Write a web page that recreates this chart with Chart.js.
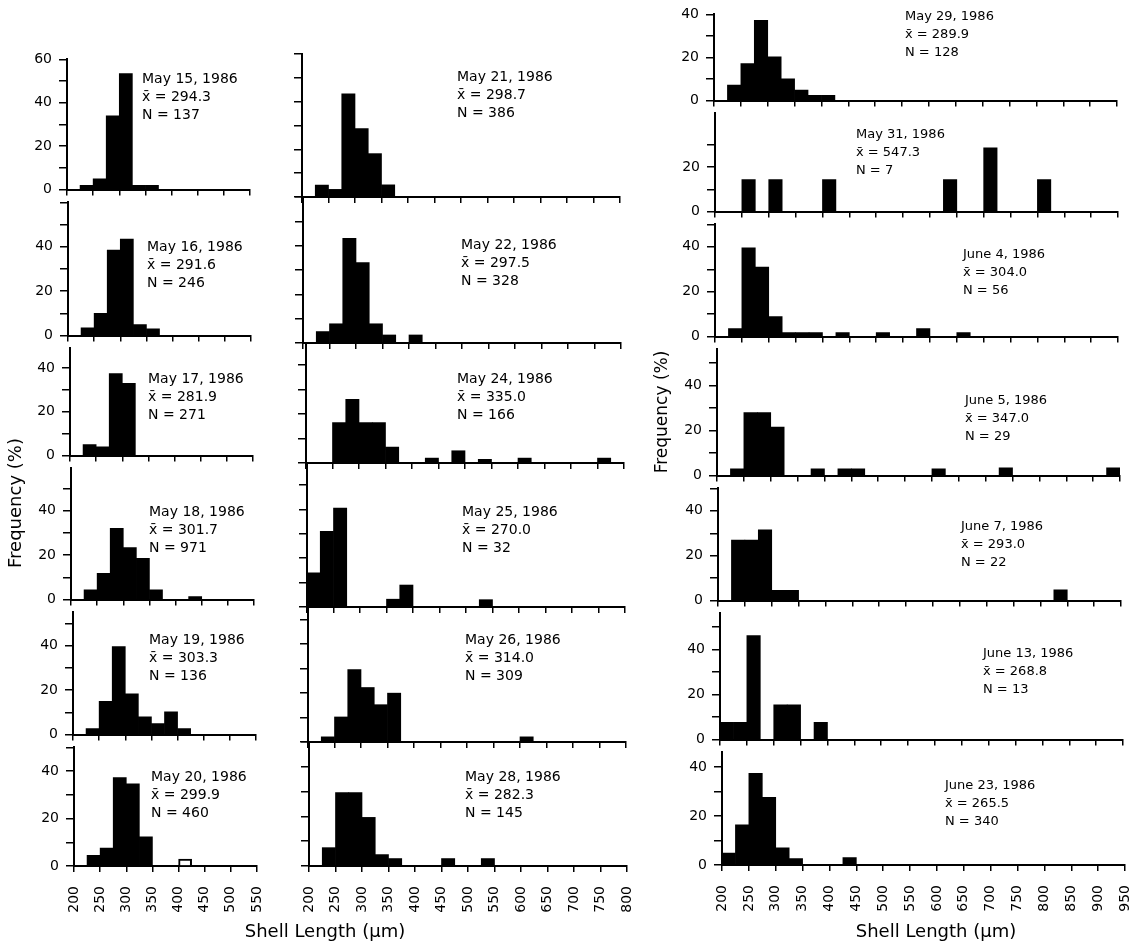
<!DOCTYPE html>
<html><head><meta charset="utf-8">
<script src="https://cdn.jsdelivr.net/npm/chart.js@4.4.1/dist/chart.umd.min.js"></script>
<style>
html,body{margin:0;padding:0;background:#fff;}
#root{position:relative;width:1141px;height:943px;overflow:hidden;font-family:"DejaVu Sans",sans-serif;color:#000;}
canvas{position:absolute;}
.note{position:absolute;line-height:18px;white-space:pre;color:#000;}
.ytitle{position:absolute;font-size:18px;white-space:nowrap;transform:translate(-50%,-50%) rotate(-90deg);}
.xtitle{position:absolute;font-size:18px;white-space:nowrap;transform:translate(-50%,-50%);}
</style></head><body><div id="root"></div>
<script>
// ---- data: frequency (%) per 25 µm bin, first bin starts at 200 µm ----
const BIN_START = 200, BIN_WIDTH = 25;
const xTicksLeft = [200, 550], xTicksMid = [200, 800], xTicksRight = [200, 950];

const may15 = [0, 2, 5, 34, 53.5, 2, 2];
const may16 = [0, 3.5, 10, 38.5, 43.5, 5, 3];
const may17 = [0, 5, 4, 37.5, 33];
const may18 = [0, 4.4, 11.8, 32, 23.4, 18.6, 4.4, 0, 0, 1.4];
const may19 = [0, 2.7, 15, 39.6, 18.4, 8, 5, 10.3, 2.7];
const may20 = [0, 4.5, 7.6, 37.3, 34.6, 12.3];
const may20open = [null, null, null, null, null, null, null, null, 2.9];

const may21 = [0, 5, 3.2, 43.3, 28.7, 18.2, 5.1];
const may22 = [0, 4.7, 7.9, 43, 33.1, 7.9, 3.3, 0, 3.3];
const may24 = [0, 0, 16.5, 26, 16.5, 16.5, 6.5, 0, 0, 2, 0, 5, 0, 1.5, 0, 0, 2, 0, 0, 0, 0, 0, 2];
const may25 = [14, 31, 40.5, 0, 0, 0, 3.2, 9, 0, 0, 0, 0, 0, 3];
const may26 = [0, 2.1, 10.2, 29.5, 22.2, 15.2, 19.9, 0, 0, 0, 0, 0, 0, 0, 0, 0, 2.1];
const may28 = [0, 7.4, 29.6, 29.6, 19.6, 4.6, 3, 0, 0, 0, 3, 0, 0, 3];

const may29 = [0, 7.2, 17.2, 37.3, 20.3, 10.1, 4.9, 2.4, 2.4];
const may31 = [0, 0, 14.3, 0, 14.3, 0, 0, 0, 14.3, 0, 0, 0, 0, 0, 0, 0, 0, 14.3, 0, 0, 28.6, 0, 0, 0, 14.3];
const jun4 = [0, 3.6, 39.6, 31, 8.9, 1.8, 1.8, 1.8, 0, 1.8, 0, 0, 1.8, 0, 0, 3.6, 0, 0, 1.8];
const jun5 = [0, 3, 28, 28, 21.5, 0, 0, 3, 0, 3, 3, 0, 0, 0, 0, 0, 3, 0, 0, 0, 0, 3.4, 0, 0, 0, 0, 0, 0, 0, 3.4];
const jun7 = [0, 27, 27, 31.5, 4.6, 4.6, 0, 0, 0, 0, 0, 0, 0, 0, 0, 0, 0, 0, 0, 0, 0, 0, 0, 0, 0, 4.8];
const jun13 = [7.7, 7.7, 46.2, 0, 15.4, 15.4, 0, 7.7];
const jun23 = [4.9, 16.4, 37.5, 27.6, 7, 2.6, 0, 0, 0, 3];

const dates = ['May 15, 1986','May 16, 1986','May 17, 1986','May 18, 1986','May 19, 1986','May 20, 1986',
  'May 21, 1986','May 22, 1986','May 24, 1986','May 25, 1986','May 26, 1986','May 28, 1986',
  'May 29, 1986','May 31, 1986','June 4, 1986','June 5, 1986','June 7, 1986','June 13, 1986','June 23, 1986'];
const means = ['294.3','291.6','281.9','301.7','303.3','299.9','298.7','297.5','335.0','270.0','314.0','282.3',
  '289.9','547.3','304.0','347.0','293.0','268.8','265.5'];
const counts = ['137','246','271','971','136','460','386','328','166','32','309','145','128','7','56','29','22','13','340'];
const seriesList = [may15, may16, may17, may18, may19, may20, may21, may22, may24, may25, may26, may28,
  may29, may31, jun4, jun5, jun7, jun13, jun23];

// ---- layout ----
const rowsLM = [[54,197],[197,343],[343,463],[463,607],[607,742],[742,866]];
const rowsR = [[9,108],[108,219],[219,344],[344,483],[483,608],[608,747],[747,865]];
const yMaxLM = [60, 60, 49, 59, 55, 50];
const yMaxR = [40, 44, 50, 56, 50, 56, 46];
const x0L = [67, 68, 70, 71, 73, 74];
const x0M = [302, 303, 306, 307, 308, 309];
const x0R = [714, 715, 715, 717, 718, 720, 722];
const notePosL = [[142,78],[147,246],[148,378],[149,511],[149,639],[151,776]];
const notePosM = [[457,76],[461,244],[457,378],[462,511],[465,639],[465,776]];
const notePosR = [[905,16],[856,134],[963,254],[965,400],[961,526],[983,653],[945,785]];

const root = document.getElementById('root');
const FONT = 'DejaVu Sans';

function binData(vals) {
  return vals.map((v, i) => ({ x: BIN_START + (i + 0.5) * BIN_WIDTH, y: v }));
}

function makePanel(p) {
  const YW = 44, PT = 10, PR = 40, XH = p.showX ? 64 : 8;
  const ph = p.bottom - p.top;
  const cw = YW + p.w + PR, ch = PT + ph + XH;
  const c = document.createElement('canvas');
  c.width = cw; c.height = ch;
  c.style.left = (p.x0 - YW) + 'px'; c.style.top = (p.top - PT) + 'px';
  c.style.width = cw + 'px'; c.style.height = ch + 'px';
  root.appendChild(c);
  const datasets = [{ data: binData(p.vals), backgroundColor: '#000', borderWidth: 0,
    barPercentage: 1, categoryPercentage: 1, grouped: false }];
  if (p.open) datasets.push({ data: binData(p.open), backgroundColor: '#fff', borderColor: '#000',
    borderWidth: 2, barPercentage: 1, categoryPercentage: 1, grouped: false });
  new Chart(c, {
    type: 'bar',
    data: { datasets },
    options: {
      responsive: false, animation: false, devicePixelRatio: 1,
      layout: { padding: { top: PT, right: PR, left: 0, bottom: 0 } },
      plugins: { legend: { display: false }, tooltip: { enabled: false } },
      scales: {
        x: { type: 'linear', min: p.xr[0], max: p.xr[1], offset: false,
          ticks: { stepSize: 50, display: !!p.showX, autoSkip: false, minRotation: 90, maxRotation: 90,
            padding: 14, color: '#000', font: { family: FONT, size: 14 } },
          grid: { offset: false, drawOnChartArea: false, drawTicks: true, tickLength: 6, color: '#000', lineWidth: 1.5 },
          border: { display: true, color: '#000', width: 2 },
          afterFit: s => { s.height = XH; } },
        y: { type: 'linear', min: 0, max: p.yMax,
          ticks: { stepSize: 10, includeBounds: false, display: p.yLabels, padding: 7, color: '#000',
            font: { family: FONT, size: 14 },
            callback: v => (v % 20 === 0 && v <= p.labelMax) ? String(v) : '' },
          grid: { drawOnChartArea: false, drawTicks: true, tickLength: 8, color: '#000', lineWidth: 1.5 },
          border: { display: true, color: '#000', width: 2 },
          afterBuildTicks: s => { if (p.tickMax != null) s.ticks = s.ticks.filter(t => t.value <= p.tickMax); },
          afterFit: s => { s.width = YW; } }
      }
    }
  });
}

function addNote(i, pos, size) {
  const d = document.createElement('div');
  d.className = 'note';
  d.style.left = pos[0] + 'px';
  d.style.top = (pos[1] - 9) + 'px';
  d.style.fontSize = size + 'px';
  d.textContent = dates[i] + '\n' + 'x\u0304 = ' + means[i] + '\n' + 'N = ' + counts[i];
  root.appendChild(d);
}

for (let r = 0; r < 6; r++) {
  makePanel({ vals: seriesList[r], open: r === 5 ? may20open : null, x0: x0L[r], w: 183, xr: xTicksLeft,
    top: rowsLM[r][0], bottom: rowsLM[r][1], yMax: yMaxLM[r], yLabels: true, labelMax: r === 0 ? 60 : 40,
    showX: r === 5 });
  addNote(r, notePosL[r], 14);
  makePanel({ vals: seriesList[6 + r], x0: x0M[r], w: 318, xr: xTicksMid,
    top: rowsLM[r][0], bottom: rowsLM[r][1], yMax: yMaxLM[r], yLabels: false, labelMax: 40,
    showX: r === 5 });
  addNote(6 + r, notePosM[r], 14);
}
for (let r = 0; r < 7; r++) {
  makePanel({ vals: seriesList[12 + r], x0: x0R[r], w: 403, xr: xTicksRight,
    top: rowsR[r][0], bottom: rowsR[r][1], yMax: yMaxR[r], yLabels: true,
    labelMax: r === 0 ? 40 : (r === 1 ? 20 : 40), tickMax: r === 1 ? 30 : null, showX: r === 6 });
  addNote(12 + r, notePosR[r], 13);
}

function addText(cls, text, x, y, size) {
  const d = document.createElement('div');
  d.className = cls; d.textContent = text;
  d.style.left = x + 'px'; d.style.top = y + 'px';
  if (size) d.style.fontSize = size + 'px';
  root.appendChild(d);
}
addText('ytitle', 'Frequency (%)', 14, 503, 18);
addText('ytitle', 'Frequency (%)', 661, 412, 17);
addText('xtitle', 'Shell Length (\u03bcm)', 325, 930, 18);
addText('xtitle', 'Shell Length (\u03bcm)', 936, 930, 18);
</script>
</body></html>
